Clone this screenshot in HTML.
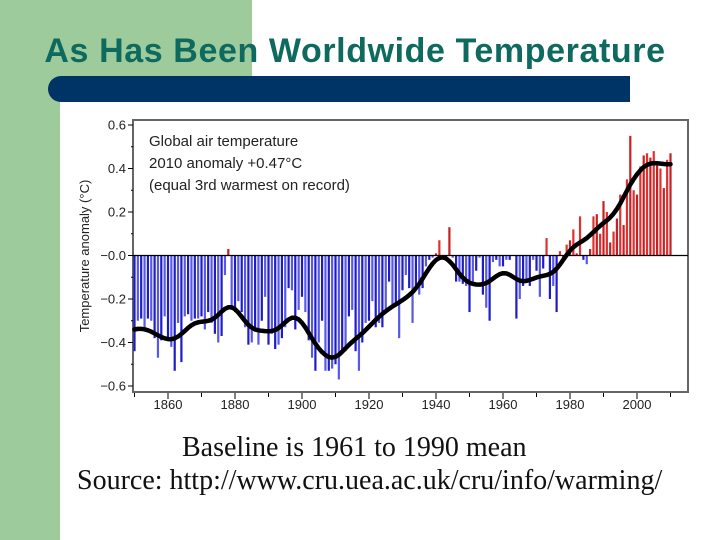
<!DOCTYPE html>
<html><head><meta charset="utf-8"><style>
body{margin:0;width:720px;height:540px;overflow:hidden;background:#fff;position:relative;font-family:"Liberation Sans",sans-serif}
</style></head><body>
<div style="position:absolute;left:0;top:0;width:60px;height:540px;background:#9dcb9b"></div>
<div style="position:absolute;left:0;top:0;width:252px;height:102px;background:#9dcb9b"></div>
<div style="position:absolute;left:0;top:32px;width:710px;text-align:center;font-size:34px;color:#0e6a5e;font-weight:bold;letter-spacing:0.6px;white-space:nowrap">As Has Been Worldwide Temperature</div>
<div style="position:absolute;left:48px;top:76px;width:582px;height:26px;background:#003366;border-radius:13px 0 0 13px"></div>
<svg style="position:absolute;left:0;top:0" width="720" height="540" id="chart"></svg>
<div style="position:absolute;left:182px;top:432px;font-family:'Liberation Serif',serif;font-size:28px;color:#111;white-space:nowrap">Baseline is 1961 to 1990 mean</div>
<div style="position:absolute;left:77px;top:465px;font-family:'Liberation Serif',serif;font-size:28px;color:#111;white-space:nowrap">Source: http://www.cru.uea.ac.uk/cru/info/warming/</div>
<script>
const startYear = 1850;
const anomalies = [-0.44,-0.30,-0.29,-0.33,-0.29,-0.30,-0.38,-0.47,-0.39,-0.28,
-0.39,-0.42,-0.53,-0.31,-0.49,-0.28,-0.27,-0.30,-0.29,-0.29,
-0.28,-0.34,-0.26,-0.31,-0.36,-0.40,-0.37,-0.09,0.03,-0.25,
-0.26,-0.21,-0.26,-0.33,-0.41,-0.40,-0.35,-0.41,-0.30,-0.19,
-0.41,-0.36,-0.43,-0.41,-0.38,-0.33,-0.15,-0.16,-0.34,-0.25,
-0.19,-0.26,-0.39,-0.47,-0.53,-0.40,-0.30,-0.53,-0.53,-0.52,
-0.50,-0.57,-0.45,-0.44,-0.28,-0.25,-0.44,-0.53,-0.40,-0.31,
-0.30,-0.21,-0.33,-0.31,-0.33,-0.25,-0.12,-0.23,-0.22,-0.38,
-0.16,-0.09,-0.15,-0.31,-0.14,-0.18,-0.15,-0.05,-0.02,-0.01,
0.01,0.07,-0.01,-0.01,0.13,-0.01,-0.12,-0.12,-0.13,-0.14,
-0.26,-0.12,-0.07,-0.01,-0.18,-0.24,-0.30,-0.03,-0.02,-0.05,
-0.05,-0.02,-0.02,0.00,-0.29,-0.20,-0.14,-0.12,-0.14,-0.02,
-0.07,-0.19,-0.06,0.08,-0.20,-0.14,-0.26,0.02,-0.01,0.05,
0.07,0.12,0.01,0.18,-0.02,-0.04,0.03,0.18,0.19,0.10,
0.25,0.20,0.06,0.11,0.17,0.28,0.14,0.35,0.55,0.30,
0.28,0.41,0.46,0.47,0.45,0.48,0.43,0.40,0.31,0.44,0.47];
const yTicks = [0.6,0.4,0.2,0.0,-0.2,-0.4,-0.6];
const yTickLabels = ["0.6","0.4","0.2","\u22120.0","\u22120.2","\u22120.4","\u22120.6"];
const xTicks = [1860,1880,1900,1920,1940,1960,1980,2000];
const legendLines = ["Global air temperature","2010 anomaly +0.47\u00b0C","(equal 3rd warmest on record)"];

const NS="http://www.w3.org/2000/svg";
const svg=document.getElementById('chart');
const X=yr=>134.5+(yr-1850)*3.35;
const Y=v=>255.5-v*217.5;
function mk(t,a){const e=document.createElementNS(NS,t);for(const k in a)e.setAttribute(k,a[k]);svg.appendChild(e);return e;}
let f=mk('rect',{x:133,y:120,width:555,height:272,fill:'#fff',stroke:'#666','stroke-width':2});


anomalies.forEach((v,i)=>{
  const yr=startYear+i, y0=Y(0), y1=Y(v);
  const col = v>=0 ? (i%2?'#e03030':'#c82020') : (i%2?'#5858e8':'#1c1cc8');
  const b=mk('rect',{x:X(yr)-1.1,y:Math.min(y0,y1),width:2.2,height:Math.abs(y1-y0),fill:col});
  
  
});
let z=mk('line',{x1:133,x2:688,y1:Y(0),y2:Y(0),stroke:'#000','stroke-width':1.2});


const sm=anomalies.map((_,i)=>{let s=0,w=0;for(let k=-12;k<=12;k++){const j=i+k;if(j<0||j>=anomalies.length)continue;const ww=Math.exp(-k*k/(2*3.2*3.2));s+=anomalies[j]*ww;w+=ww;}return s/w;});
let d=sm.map((v,i)=>(i?'L':'M')+X(startYear+i).toFixed(1)+' '+Y(v).toFixed(1)).join(' ');
let p=mk('path',{d:d,fill:'none',stroke:'#000','stroke-width':4.5,'stroke-linejoin':'round','stroke-linecap':'round'});


yTicks.forEach((v,i)=>{
  const t=mk('line',{x1:128,x2:133,y1:Y(v),y2:Y(v),stroke:'#000'});
  
  
  if(i<yTicks.length-1){const m=mk('line',{x1:131,x2:133,y1:Y(v-0.1),y2:Y(v-0.1),stroke:'#000'});
  
  }
  const l=mk('text',{x:126,y:Y(v)+4.5,'text-anchor':'end','font-size':13,fill:'#222'});
  l.textContent=yTickLabels[i];
  
  
});
for(let yr=1850;yr<=2010;yr+=10){
  const big=yr%20===0;
  const t=mk('line',{x1:X(yr),x2:X(yr),y1:393,y2:big?399:397,stroke:'#000'});
  
  
}
xTicks.forEach(yr=>{
  const l=mk('text',{x:X(yr),y:409,'text-anchor':'middle','font-size':13,fill:'#222'});
  l.textContent=yr;
  
  
});
const yt=mk('text',{x:0,y:0,'text-anchor':'middle','font-size':13,fill:'#222',transform:'translate(89,256) rotate(-90)'});
yt.textContent='Temperature anomaly (\u00b0C)';


legendLines.forEach((s,i)=>{
  const l=mk('text',{x:149,y:146+i*22,'font-size':15,fill:'#222'});
  l.textContent=s;
  
  
});
</script>
</body></html>
